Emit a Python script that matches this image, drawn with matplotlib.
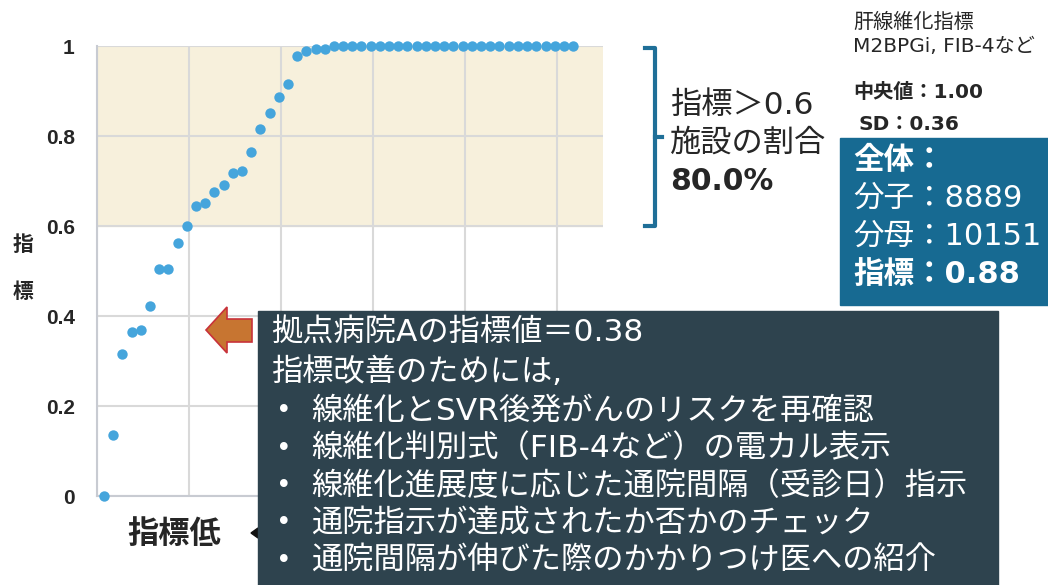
import matplotlib
matplotlib.use("Agg")
import matplotlib.pyplot as plt
from matplotlib.patches import Polygon, Rectangle
from matplotlib.lines import Line2D
import numpy as np

# wide latin glyphs first, japanese glyphs from the CJK family
plt.rcParams['font.family'] = ['DejaVu Sans', 'Noto Sans CJK JP']

W, H = 1048, 585

# facility index values, sorted low -> high
index_values = [0.0, 0.135, 0.315, 0.365, 0.369, 0.422, 0.504, 0.504, 0.563, 0.601,
                0.644, 0.652, 0.675, 0.691, 0.718, 0.722, 0.765, 0.816, 0.852, 0.887,
                0.915, 0.978, 0.990, 0.993, 0.993, 1.0, 1.0, 1.0, 1.0, 1.0,
                1.0, 1.0, 1.0, 1.0, 1.0, 1.0, 1.0, 1.0, 1.0, 1.0,
                1.0, 1.0, 1.0, 1.0, 1.0, 1.0, 1.0, 1.0, 1.0, 1.0,
                1.0, 1.0]
threshold = 0.6
y_ticks = [0, 0.2, 0.4, 0.6, 0.8, 1.0]
y_tick_labels = ['0', '0.2', '0.4', '0.6', '0.8', '1']

share_lines = ['指標＞0.6', '施設の割合', '80.0%']
header_lines = ['肝線維化指標', 'M2BPGi, FIB-4など']
median_text = '中央値：1.00'
sd_text = 'SD：0.36'
overall_lines = ['全体：', '分子：8889', '分母：10151', '指標：0.88']
hospital_lines = ['拠点病院Aの指標値＝0.38', '指標改善のためには,']
bullet_items = [
    '線維化とSVR後発がんのリスクを再確認',
    '線維化判別式（FIB-4など）の電カル表示',
    '線維化進展度に応じた通院間隔（受診日）指示',
    '通院指示が達成されたか否かのチェック',
    '通院間隔が伸びた際のかかりつけ医への紹介',
]

dot_color = '#45A5DC'
band_color = '#F7F0DC'
grid_color = '#D9D9D9'
dark_box = '#2E434E'
blue_box = '#176A92'
text_dark = '#262626'


def fx(x):
    return x / W


def fy(y):
    return 1 - y / H


fig = plt.figure(figsize=(W / 100, H / 100), dpi=100)
ax = fig.add_axes([fx(97), fy(496), fx(603) - fx(97), fy(46) - fy(496)])

ranks = np.arange(1, len(index_values) + 1)
ax.axhspan(threshold, 1.0, color=band_color, zorder=0)
ax.scatter(ranks, index_values, s=56, color=dot_color, zorder=3, clip_on=False,
           linewidths=0)

ax.set_xlim(0.25, 55.25)
ax.set_ylim(0, 1)
ax.set_xticks([0.25, 10.25, 20.25, 30.25, 40.25, 50.25])
ax.set_xticklabels([])
ax.set_yticks(y_ticks)
ax.set_yticklabels(y_tick_labels, fontsize=15, fontweight='bold', color=text_dark,
                   family='Liberation Sans')
ax.tick_params(length=0, pad=16)
ax.grid(True, color=grid_color, linewidth=1.5, zorder=1)
ax.set_axisbelow(True)
for side in ['top', 'right']:
    ax.spines[side].set_visible(False)
for side in ['left', 'bottom']:
    ax.spines[side].set_color('#C8CBD2')
    ax.spines[side].set_linewidth(1.5)

# vertical y label
fig.text(fx(23), fy(245), '指', fontsize=15, fontweight='bold', ha='center', va='center',
         color=text_dark)
fig.text(fx(23), fy(292), '標', fontsize=15, fontweight='bold', ha='center', va='center',
         color=text_dark)

fig.text(fx(174), fy(534), '指標低', fontsize=22.5, fontweight='bold', ha='center',
         va='center', color=text_dark)
fig.patches.append(Polygon([(fx(251), fy(533)), (fx(258), fy(528)), (fx(258), fy(538))],
                           closed=True, transform=fig.transFigure, color='#111111', zorder=2))

# bracket next to the shaded band
bx = 655
br_col = '#1F6F98'
for pts in ([(645, 48), (bx, 48), (bx, 226), (645, 226)], [(bx, 137), (662, 137)]):
    fig.lines.append(Line2D([fx(p[0]) for p in pts], [fy(p[1]) for p in pts],
                            transform=fig.transFigure, color=br_col, linewidth=3,
                            solid_joinstyle='round'))
for i, line in enumerate(share_lines):
    bold = i == 2
    fig.text(fx(670), fy(105 + 38.5 * i), line, fontsize=21.5 if bold else 22.5,
             fontweight='bold' if bold else 'normal', ha='left', va='center',
             color=text_dark)

# summary at top right
for i, line in enumerate(header_lines):
    fig.text(fx(853), fy(22 + 25 * i), line, fontsize=14.5, ha='left', va='center',
             color=text_dark)
fig.text(fx(853), fy(92), median_text, fontsize=14.5, fontweight='bold', ha='left',
         va='center', color=text_dark)
fig.text(fx(858), fy(124), sd_text, fontsize=14.5, fontweight='bold', ha='left',
         va='center', color=text_dark)

fig.patches.append(Rectangle((fx(840), fy(305)), fx(W) - fx(840), fy(138) - fy(305),
                             transform=fig.transFigure, color=blue_box, zorder=1))
for i, line in enumerate(overall_lines):
    fig.text(fx(853), fy(160 + 38.3 * i), line, fontsize=22,
             fontweight='bold' if i in (0, 3) else 'normal', ha='left', va='center',
             color='white', zorder=4)

# arrow pointing at hospital A's value
arrow = [(206, 330), (227, 307), (227, 319), (252, 319), (252, 342), (227, 342),
         (227, 353)]
fig.patches.append(Polygon([(fx(x), fy(y)) for x, y in arrow], closed=True,
                           transform=fig.transFigure, facecolor='#C77531',
                           edgecolor='#C8323A', linewidth=1.2, zorder=3))

# improvement notes box
fig.patches.append(Rectangle((fx(258), fy(H + 5)), fx(998) - fx(258), fy(311) - fy(H + 5),
                             transform=fig.transFigure, color=dark_box, zorder=3))
for i, line in enumerate(hospital_lines):
    fig.text(fx(271), fy(333 + 39 * i), line, fontsize=22.5, ha='left', va='center',
             color='white', zorder=4)
for i, item in enumerate(bullet_items):
    y = 411 + 37.5 * i
    fig.text(fx(276), fy(y), '•', fontsize=19, ha='left', va='center', color='white',
             zorder=4)
    fig.text(fx(311), fy(y), item, fontsize=22.5, ha='left', va='center', color='white',
             zorder=4)

fig.savefig('out.png', dpi=100)
